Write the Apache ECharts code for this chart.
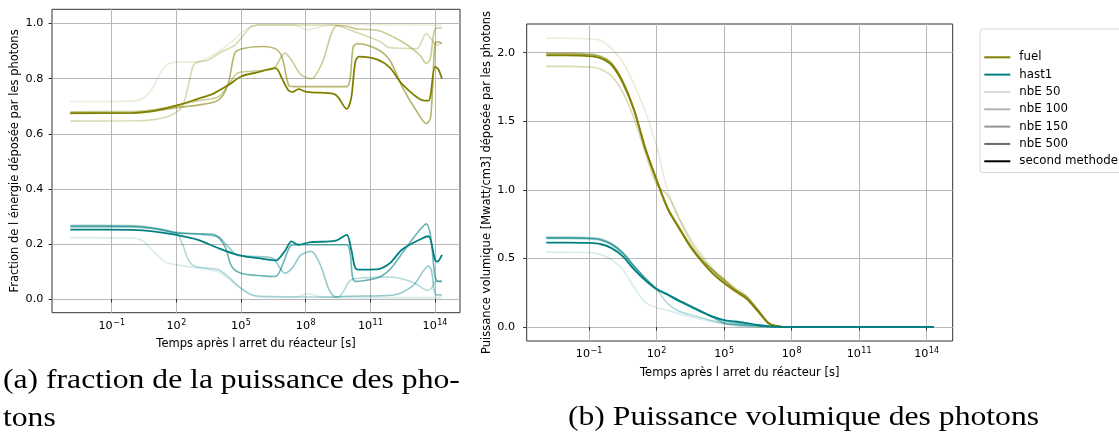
<!DOCTYPE html>
<html><head><meta charset="utf-8">
<script src="https://cdn.jsdelivr.net/npm/echarts@6/dist/echarts.min.js"></script>
<style>html,body{margin:0;padding:0;background:#fff}#c{width:1119px;height:437px}</style>
</head><body><div id="c"></div>
<script>
// ================= DATA =================
const xTickValues = [1e-1, 1e2, 1e5, 1e8, 1e11, 1e14];
const fracTicks = [0, 0.2, 0.4, 0.6, 0.8, 1.0];
const powTicks = [0, 0.5, 1.0, 1.5, 2.0];
const legendNames = ['fuel', 'hast1', 'nbE 50', 'nbE 100', 'nbE 150', 'nbE 500', 'second methode'];
const levelNames = ['nbE 50', 'nbE 100', 'nbE 150', 'nbE 500', 'second methode'];
const captionA1 = '(a) fraction de la puissance des pho-';
const captionA2 = 'tons';
const captionB = '(b) Puissance volumique des photons';
const xTitle = 'Temps après l arret du réacteur [s]';
const yTitleLeft = 'Fraction de l énergie déposée par les photons';
const yTitleRight = 'Puissance volumique [Mwatt/cm3] déposée par les photons';

// (a) fraction deposited by photons : [time (s), fraction]
const fracFuelNbE50 = [[1.2e-3,0.717],[0.8,0.718],[3,0.73],[7,0.76],[30,0.845],[100,0.86],[1e3,0.862],[6e3,0.89],[3.6e4,0.934],[1.5e5,0.975],[4.5e5,0.993],[2e6,0.996],[3e7,0.994],[1.3e8,0.978],[6e8,0.99],[2e9,0.996],[1e12,0.995],[2.1e14,0.994]];
const fracFuelNbE100 = [[1.2e-3,0.646],[1,0.647],[10,0.652],[60,0.668],[190,0.70],[370,0.78],[630,0.85],[1.1e3,0.861],[3e3,0.867],[1.2e4,0.897],[5e4,0.921],[1.5e5,0.964],[3.2e5,0.99],[1e6,0.995],[1.5e9,0.995],[4e9,0.99],[1.2e10,0.976],[3e11,0.934],[8e11,0.912],[1.4e13,0.909],[4e13,0.964],[1.2e14,0.922],[2.1e14,0.93]];
const fracFuelNbE150 = [[1.2e-3,0.68],[1,0.681],[10,0.688],[100,0.703],[1e3,0.72],[9e3,0.734],[2.5e4,0.776],[7e4,0.82],[3e5,0.827],[3e6,0.835],[1.1e7,0.893],[2.5e7,0.86],[6e7,0.815],[1.8e8,0.80],[6e8,0.86],[1.5e9,0.96],[2.8e9,0.993],[8e9,0.99],[2.5e10,0.98],[2e11,0.976],[3e12,0.934],[2e13,0.885],[4e13,0.855],[6e13,0.87],[1e14,0.98],[2.1e14,0.985]];
const fracFuelNbE500 = [[1.2e-3,0.674],[1,0.675],[10,0.682],[100,0.695],[1e3,0.704],[9e3,0.722],[2.5e4,0.78],[5e4,0.89],[1e5,0.908],[1e6,0.917],[4e6,0.908],[8e6,0.878],[1.6e7,0.777],[2.7e7,0.771],[8e9,0.771],[1.15e10,0.80],[1.6e10,0.915],[2.5e10,0.927],[2e11,0.908],[8e11,0.867],[3e12,0.77],[1.3e13,0.686],[4e13,0.637],[6.3e13,0.66],[1e14,0.927],[1.4e14,0.933],[2.1e14,0.928]];
const fracFuelSecond = [[1.2e-3,0.675],[1,0.676],[10,0.684],[100,0.702],[1e3,0.727],[5e3,0.745],[3e4,0.78],[1e5,0.808],[5e5,0.822],[4e6,0.838],[8e6,0.80],[1.6e7,0.757],[2.5e7,0.752],[4.6e7,0.762],[1.1e8,0.752],[2e9,0.745],[3.2e9,0.733],[8e9,0.69],[1.3e10,0.73],[2e10,0.86],[3e10,0.88],[2e11,0.87],[8e11,0.84],[3e12,0.78],[2.5e13,0.722],[5e13,0.72],[1e14,0.843],[1.4e14,0.835],[2.1e14,0.80]];

const fracHastNbE50 = [[1.2e-3,0.223],[0.8,0.222],[3,0.21],[7,0.18],[30,0.135],[100,0.124],[1e3,0.113],[8e3,0.10],[2.5e4,0.075],[1e5,0.04],[3e5,0.015],[1e6,0.007],[3e7,0.006],[1.3e8,0.02],[5e8,0.008],[1e10,0.005],[1e13,0.005],[2.1e14,0.005]];
const fracHastNbE100 = [[1.2e-3,0.268],[1,0.267],[10,0.258],[100,0.238],[190,0.20],[370,0.14],[760,0.118],[3e3,0.112],[9e3,0.106],[2.5e4,0.082],[7.5e4,0.046],[3e5,0.016],[1e6,0.01],[3e9,0.007],[1.3e10,0.07],[1e11,0.078],[8e11,0.08],[1e13,0.06],[4.5e13,0.032],[7e13,0.04],[1.1e14,0.065],[2.1e14,0.064]];
const fracHastNbE150 = [[1.2e-3,0.262],[1,0.261],[10,0.256],[100,0.242],[1e3,0.235],[9e3,0.225],[2.5e4,0.19],[7e4,0.158],[3e5,0.155],[3e6,0.148],[6e6,0.115],[1.1e7,0.094],[2.5e7,0.115],[6e7,0.16],[1.8e8,0.173],[5e8,0.12],[1.2e9,0.035],[2.5e9,0.008],[1e10,0.01],[1e12,0.014],[1e13,0.05],[5e13,0.12],[7e13,0.10],[1.1e14,0.015],[2.1e14,0.015]];
const fracHastNbE500 = [[1.2e-3,0.265],[1,0.264],[10,0.255],[100,0.24],[1e3,0.237],[6e3,0.233],[1.8e4,0.19],[3.7e4,0.118],[1e5,0.094],[1e6,0.084],[4e6,0.082],[9e6,0.13],[1.9e7,0.191],[3.8e7,0.197],[8e9,0.197],[1.15e10,0.166],[2e10,0.064],[2e11,0.076],[8e11,0.107],[3e12,0.166],[1.3e13,0.233],[4e13,0.273],[6.3e13,0.227],[1e14,0.082],[1.4e14,0.064],[2.1e14,0.064]];
const fracHastSecond = [[1.2e-3,0.252],[1,0.251],[10,0.245],[100,0.233],[1e3,0.215],[1e4,0.183],[4e4,0.166],[1.5e5,0.155],[1e6,0.146],[4e6,0.14],[1.1e7,0.175],[2.2e7,0.209],[4.6e7,0.197],[1.5e8,0.206],[2.5e9,0.212],[8e9,0.233],[1.3e10,0.18],[2.5e10,0.107],[2e11,0.108],[8e11,0.13],[3e12,0.18],[2.5e13,0.22],[5e13,0.228],[1e14,0.143],[1.3e14,0.136],[2.1e14,0.16]];

// (b) volumic power deposited by photons (MW/cm3), shared time grid (s)
const powTime = [1.26e-3,1e-2,1e-1,0.316,1,3.16,10,31.6,100,316,1e3,3.16e3,1e4,3.16e4,1e5,3.16e5,1e6,3.16e6,1e7,3.16e7,1e8,1e9,1e10,1e11,1e12,1e13,1e14,2.14e14];
const powFuelNbE50  = [2.105,2.105,2.10,2.09,2.03,1.93,1.77,1.57,1.32,0.99,0.80,0.65,0.53,0.43,0.355,0.29,0.23,0.13,0.03,0.004,0,0,0,0,0,0,0,0];
const powFuelNbE100 = [1.90,1.90,1.895,1.88,1.83,1.71,1.52,1.27,1.04,0.96,0.79,0.63,0.51,0.415,0.34,0.275,0.22,0.125,0.028,0.004,0,0,0,0,0,0,0,0];
const powFuelNbE150 = [1.995,1.995,1.99,1.975,1.925,1.795,1.59,1.31,1.08,0.87,0.73,0.60,0.49,0.41,0.335,0.27,0.215,0.125,0.026,0.003,0,0,0,0,0,0,0,0];
const powFuelNbE500 = [1.99,1.99,1.985,1.97,1.92,1.79,1.585,1.305,1.075,0.865,0.725,0.595,0.49,0.415,0.345,0.275,0.22,0.125,0.026,0.003,0,0,0,0,0,0,0,0];
const powFuelSecond = [1.98,1.98,1.975,1.96,1.91,1.78,1.58,1.30,1.07,0.86,0.72,0.585,0.48,0.39,0.32,0.26,0.205,0.115,0.024,0.003,0,0,0,0,0,0,0,0];
const powHastNbE50  = [0.545,0.545,0.542,0.53,0.49,0.42,0.29,0.18,0.143,0.12,0.097,0.075,0.055,0.038,0.022,0.013,0.007,0.003,0.001,0,0,0,0,0,0,0,0,0];
const powHastNbE100 = [0.655,0.655,0.652,0.643,0.61,0.545,0.445,0.355,0.275,0.17,0.115,0.09,0.068,0.045,0.025,0.012,0.006,0.003,0.001,0,0,0,0,0,0,0,0,0];
const powHastNbE150 = [0.645,0.645,0.642,0.633,0.60,0.535,0.44,0.35,0.28,0.235,0.19,0.15,0.11,0.075,0.045,0.03,0.02,0.012,0.006,0.002,0,0,0,0,0,0,0,0];
const powHastNbE500 = [0.65,0.65,0.647,0.638,0.605,0.54,0.445,0.355,0.28,0.24,0.195,0.155,0.115,0.07,0.03,0.02,0.014,0.01,0.006,0.002,0,0,0,0,0,0,0,0];
const powHastSecond = [0.615,0.615,0.613,0.605,0.575,0.515,0.42,0.34,0.275,0.235,0.19,0.15,0.11,0.075,0.05,0.04,0.028,0.015,0.005,0.001,0,0,0,0,0,0,0,0];

// ================= STYLE =================
const levelAlpha = [0.15, 0.3, 0.42, 0.58, 1];
const FUEL = [128,128,0], HAST = [0,128,128];
const rgba = (c, a) => `rgba(${c[0]},${c[1]},${c[2]},${a})`;
const FONT = 'DejaVu Sans';
const FS_TICK = 11.2, FS_TITLE = 11.5, FS_LEG = 11.8;

const fracFuel = [fracFuelNbE50, fracFuelNbE100, fracFuelNbE150, fracFuelNbE500, fracFuelSecond];
const fracHast = [fracHastNbE50, fracHastNbE100, fracHastNbE150, fracHastNbE500, fracHastSecond];
const powFuel = [powFuelNbE50, powFuelNbE100, powFuelNbE150, powFuelNbE500, powFuelSecond];
const powHast = [powHastNbE50, powHastNbE100, powHastNbE150, powHastNbE500, powHastSecond];

function pow10Label(v) {
  const e = Math.round(Math.log10(v));
  return '{b|10}{s|' + String(e).replace('-', '\u2212') + '}';
}
const pow10Rich = {
  b: { fontFamily: FONT, fontSize: FS_TICK, lineHeight: 13, verticalAlign: 'bottom', color: '#000' },
  s: { fontFamily: FONT, fontSize: 8, lineHeight: 9, padding: [0, 0, 6, 0.5], verticalAlign: 'top', color: '#000' }
};

function lineSeries(name, data, color, xi, lw) {
  return {
    type: 'line', name, data, xAxisIndex: xi, yAxisIndex: xi,
    showSymbol: false, symbol: 'none', smooth: 0.3, silent: true,
    lineStyle: { color, width: lw },
    emphasis: { disabled: true }
  };
}

const series = [];
fracFuel.forEach((d, i) => series.push(lineSeries('a fuel ' + levelNames[i], d, rgba(FUEL, levelAlpha[i]), 0, i === 4 ? 1.8 : 1.6)));
fracHast.forEach((d, i) => series.push(lineSeries('a hast1 ' + levelNames[i], d, rgba(HAST, levelAlpha[i]), 0, i === 4 ? 1.8 : 1.6)));
powFuel.forEach((v, i) => series.push(lineSeries('b fuel ' + levelNames[i], powTime.map((t, k) => [t, v[k]]), rgba(FUEL, levelAlpha[i]), 1, i === 4 ? 1.9 : 1.6)));
powHast.forEach((v, i) => series.push(lineSeries('b hast1 ' + levelNames[i], powTime.map((t, k) => [t, v[k]]), rgba(HAST, levelAlpha[i]), 1, i === 4 ? 1.9 : 1.6)));
// legend-only entries
const legendColors = ['#808000', '#008080'].concat(levelAlpha.map(a => `rgba(0,0,0,${a})`));
legendNames.forEach((n, i) => series.push({
  type: 'line', name: n, data: [], xAxisIndex: 0, yAxisIndex: 0, symbol: 'none',
  lineStyle: { color: legendColors[i], width: 2 }, itemStyle: { color: legendColors[i] }
}));

function xAxis(gi, nameGap) {
  return {
    type: 'log', gridIndex: gi, logBase: 10,
    min: Math.pow(10, -3.77), max: Math.pow(10, 15.16),
    name: xTitle, nameLocation: 'middle', nameGap,
    nameTextStyle: { fontFamily: FONT, fontSize: FS_TITLE, color: '#000' },
    axisLine: { show: false },
    axisTick: { show: true, length: 3.5, customValues: xTickValues, lineStyle: { color: '#333', width: 1 } },
    minorTick: { show: false },
    axisLabel: { customValues: xTickValues, formatter: pow10Label, rich: pow10Rich, margin: 6, fontFamily: FONT, fontSize: FS_TICK, color: '#000' },
    splitLine: { show: true, lineStyle: { color: '#b8b8b8', width: 1 } }
  };
}
function yAxis(gi, min, max, ticks, nameText, nameGap, margin) {
  return {
    type: 'value', gridIndex: gi, min, max,
    name: nameText, nameLocation: 'middle', nameGap, nameRotate: 90,
    nameTextStyle: { fontFamily: FONT, fontSize: FS_TITLE, color: '#000' },
    axisLine: { show: false },
    axisTick: { show: true, length: 3.5, customValues: ticks, lineStyle: { color: '#333', width: 1 } },
    axisLabel: { customValues: ticks, formatter: v => v.toFixed(1), margin, fontFamily: FONT, fontSize: FS_TICK, color: '#000' },
    splitLine: { show: true, lineStyle: { color: '#b8b8b8', width: 1 } }
  };
}

// caption font: serif, fitted in width, slightly condensed em to mimic Computer Modern proportions
const CAP_SHRINK = 0.88;
const ctx = document.createElement('canvas').getContext('2d');
ctx.font = '100px "Liberation Serif"';
const capFsFull = 100 * (459 / ctx.measureText(captionA1).width + 469 / ctx.measureText(captionB).width) / 2;
const capFont = `${(capFsFull * CAP_SHRINK).toFixed(2)}px "Liberation Serif"`;
const capScaleX = 1 / CAP_SHRINK;

const chart = echarts.init(document.getElementById('c'), null, { renderer: 'canvas' });
chart.setOption({
  animation: false,
  backgroundColor: '#fff',
  grid: [
    { left: 52, top: 9.3, width: 408, height: 303.4, show: true, borderColor: '#333', borderWidth: 1, backgroundColor: 'transparent', containLabel: false },
    { left: 526.7, top: 24, width: 426, height: 317, show: true, borderColor: '#333', borderWidth: 1, backgroundColor: 'transparent', containLabel: false }
  ],
  xAxis: [xAxis(0, 24), xAxis(1, 26)],
  yAxis: [
    yAxis(0, -0.0496, 1.0518, fracTicks, yTitleLeft, 30.5, 8.7),
    yAxis(1, -0.102, 2.209, powTicks, yTitleRight, 32, 11.7)
  ],
  legend: {
    data: legendNames, orient: 'vertical', left: 980, top: 29,
    icon: 'rect', itemWidth: 26, itemHeight: 2, itemGap: 4.33,
    padding: [21.8, 30, 4.9, 4.3],
    backgroundColor: '#fff', borderColor: '#d6d6d6', borderWidth: 1, borderRadius: 3,
    selectedMode: false,
    textStyle: { fontFamily: FONT, fontSize: FS_LEG, lineHeight: 13, color: '#000', padding: [0, 0, 0, 4] }
  },
  graphic: [
    { type: 'text', x: 3, y: 381, scaleX: capScaleX, style: { text: captionA1, font: capFont, fill: '#000', align: 'left', verticalAlign: 'middle' } },
    { type: 'text', x: 3, y: 419, scaleX: capScaleX, style: { text: captionA2, font: capFont, fill: '#000', align: 'left', verticalAlign: 'middle' } },
    { type: 'text', x: 568, y: 418, scaleX: capScaleX, style: { text: captionB, font: capFont, fill: '#000', align: 'left', verticalAlign: 'middle' } }
  ],
  series
});
</script>
</body></html>
